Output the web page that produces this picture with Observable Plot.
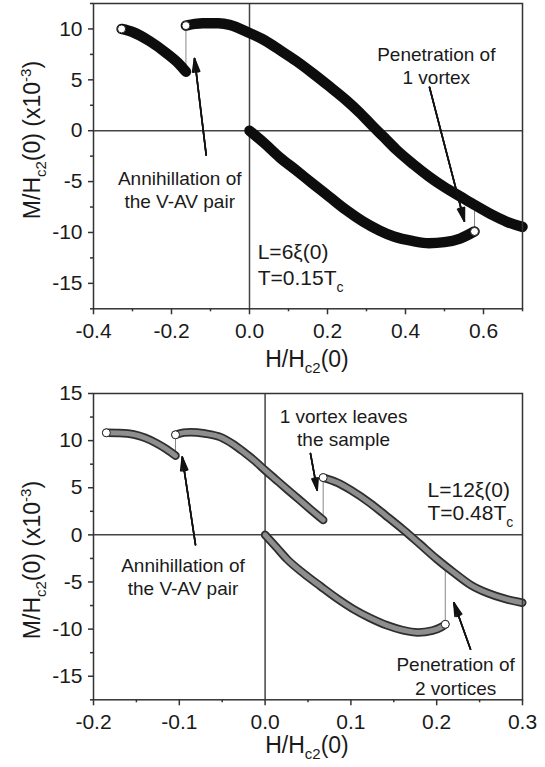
<!DOCTYPE html>
<html><head><meta charset="utf-8">
<script src="https://cdn.jsdelivr.net/npm/d3@7"></script>
<script src="https://cdn.jsdelivr.net/npm/@observablehq/plot@0.6"></script>
<style>body{margin:0;background:#fff;} #chart{width:545px;} svg{display:block;}</style>
</head><body><div id="chart"></div>
<script>
// ---------- Top panel data (L=6ξ(0), T=0.15Tc) ----------
const topA_H = [-0.328, -0.30, -0.256, -0.214, -0.179, -0.163];
const topA_M = [10.0, 9.7, 8.8, 7.65, 6.5, 5.8];
const topB_H = [-0.163, -0.14, -0.12, -0.08, -0.051, 0, 0.04, 0.077, 0.12, 0.162, 0.205, 0.248, 0.282, 0.316, 0.345, 0.376, 0.42, 0.46, 0.5, 0.54, 0.58, 0.624, 0.66, 0.7];
const topB_M = [10.33, 10.5, 10.57, 10.55, 10.4, 9.6, 8.85, 7.94, 6.85, 5.65, 4.35, 3.0, 1.8, 0.45, -0.65, -1.85, -3.3, -4.5, -5.55, -6.45, -7.35, -8.3, -8.95, -9.45];
const topC_H = [0, 0.04, 0.077, 0.12, 0.162, 0.205, 0.248, 0.29, 0.333, 0.37, 0.42, 0.46, 0.5, 0.54, 0.577];
const topC_M = [0, -1.3, -2.6, -3.9, -5.2, -6.5, -7.8, -8.9, -9.8, -10.4, -10.85, -11.05, -10.95, -10.6, -9.9];
const topOpen_H = [-0.328, -0.163, 0.577];
const topOpen_M = [10.0, 10.33, -9.9];
const topJump_H = [-0.163, 0.577];
const topJump_from = [5.8, -9.9];
const topJump_to = [10.33, -7.3];
const topLabels = ["Annihillation of\nthe V-AV pair", "Penetration of\n1 vortex"];
const topLabel_H = [-0.179, 0.479];
const topLabel_M = [-5.74, 6.47];
const topArrow_H1 = [-0.111, 0.4615], topArrow_M1 = [-2.4, 4.27];
const topArrow_H2 = [-0.141, 0.551], topArrow_M2 = [7.1, -8.9];
const topParams = ["L=6ξ(0)", "T=0.15T"];
const topParam_H = [0.021, 0.021];
const topParam_M = [-11.94, -14.5];
const topXTicks = [-0.4, -0.2, 0.0, 0.2, 0.4, 0.6];
const topXMinor = [-0.3, -0.1, 0.1, 0.3, 0.5, 0.7];
const topYTicks = [-15, -10, -5, 0, 5, 10];
const topYMinor = [-17.5, -12.5, -7.5, -2.5, 2.5, 7.5, 12.5];

// ---------- Bottom panel data (L=12ξ(0), T=0.48Tc) ----------
const botA_H = [-0.185, -0.17, -0.153, -0.14, -0.126, -0.115, -0.1044];
const botA_M = [10.83, 10.8, 10.65, 10.3, 9.7, 9.1, 8.4];
const botB_H = [-0.1044, -0.095, -0.087, -0.07, -0.052, -0.037, -0.025, -0.012, 0, 0.013, 0.0258, 0.04, 0.053, 0.0677];
const botB_M = [10.62, 10.85, 10.9, 10.75, 10.37, 9.6, 8.8, 7.85, 6.86, 5.83, 4.82, 3.72, 2.7, 1.58];
const botC_H = [0.0677, 0.084, 0.1, 0.1228, 0.14, 0.1617, 0.18, 0.2006, 0.22, 0.2394, 0.26, 0.28, 0.2997];
const botC_M = [6.08, 5.55, 4.75, 3.34, 2.1, 0.5, -0.95, -2.6, -4.0, -5.3, -6.2, -6.8, -7.2];
const botD_H = [0, 0.013, 0.0258, 0.045, 0.0646, 0.084, 0.1034, 0.122, 0.142, 0.16, 0.178, 0.195, 0.205, 0.21];
const botD_M = [0, -1.3, -2.6, -4.1, -5.45, -6.75, -7.9, -8.8, -9.6, -10.1, -10.35, -10.15, -9.8, -9.49];
const botOpen_H = [-0.185, -0.1044, 0.0677, 0.21];
const botOpen_M = [10.83, 10.62, 6.08, -9.49];
const botJump_H = [-0.1044, 0.0677, 0.21];
const botJump_from = [8.4, 1.58, -9.49];
const botJump_to = [10.62, 6.08, -3.6];
const botLabels = ["1 vortex leaves\nthe sample", "Annihillation of\nthe V-AV pair", "Penetration of\n2 vortices"];
const botLabel_H = [0.0914, -0.0957, 0.222];
const botLabel_M = [11.45, -4.4, -14.93];
const botArrow_H1 = [0.0529, -0.0811, 0.2394], botArrow_M1 = [8.62, -1.05, -12.13];
const botArrow_H2 = [0.0607, -0.0966, 0.22], botArrow_M2 = [4.75, 8.26, -7.2];
const botParams = ["L=12ξ(0)", "T=0.48T"];
const botParam_H = [0.1893, 0.1893];
const botParam_M = [4.7, 2.3];
const botXTicks = [-0.2, -0.1, 0.0, 0.1, 0.2, 0.3];
const botXMinor = [-0.15, -0.05, 0.05, 0.15, 0.25];
const botYTicks = [-15, -10, -5, 0, 5, 10, 15];
const botYMinor = [-17.5, -12.5, -7.5, -2.5, 2.5, 7.5, 12.5];

// ---------- helpers ----------
const pts = (H, M) => H.map((h, i) => ({H: h, M: M[i]}));
const FONT = "Liberation Sans, Arial, Helvetica, sans-serif";
const INK = "#1a1a1a";

function buildPanel(cfg) {
  const branchMarks = [];
  for (const b of cfg.branches) {
    if (cfg.gray) {
      branchMarks.push(Plot.line(b, {x: "H", y: "M", stroke: "#2e2e2e", strokeWidth: 8.5, curve: "monotone-x", strokeLinecap: "round"}));
      branchMarks.push(Plot.line(b, {x: "H", y: "M", stroke: "#8e8e8e", strokeWidth: 5, curve: "monotone-x", strokeLinecap: "round"}));
    } else {
      branchMarks.push(Plot.line(b, {x: "H", y: "M", stroke: "#0d0d0d", strokeWidth: 10.5, curve: "monotone-x", strokeLinecap: "round"}));
    }
  }
  const jumps = cfg.jumpH.map((h, i) => ({H: h, m1: cfg.jumpFrom[i], m2: cfg.jumpTo[i]}));
  const arrows = cfg.arH1.map((h, i) => ({x1: h, y1: cfg.arM1[i], x2: cfg.arH2[i], y2: cfg.arM2[i]}));
  const labels = cfg.labels.map((t, i) => ({t, H: cfg.labH[i], M: cfg.labM[i]}));
  const params = cfg.params.map((t, i) => ({t, H: cfg.parH[i], M: cfg.parM[i]}));
  const arrowMarks = [30, 20, 10].map(a =>
    Plot.arrow(arrows, {x1: "x1", y1: "y1", x2: "x2", y2: "y2", stroke: "#111", strokeWidth: 1.6, headLength: 13, headAngle: a}));
  const plot = Plot.plot({
    width: 545,
    height: cfg.height,
    marginLeft: 93, marginRight: 23,
    marginTop: cfg.mt, marginBottom: cfg.mb,
    style: {fontFamily: FONT, fontSize: "21px", color: INK, background: "white"},
    x: {domain: cfg.xd, label: null},
    y: {domain: cfg.yd, label: null},
    marks: [
      Plot.ruleY([0], {stroke: "#444", strokeWidth: 1.5}),
      Plot.ruleX([0], {stroke: "#444", strokeWidth: 1.5}),
      Plot.link(jumps, {x1: "H", x2: "H", y1: "m1", y2: "m2", stroke: "#888", strokeWidth: 1}),
      ...branchMarks,
      Plot.dot(pts(cfg.openH, cfg.openM), {x: "H", y: "M", r: 4, fill: "white", stroke: "#222", strokeWidth: 1}),
      ...arrowMarks,
      Plot.text(labels, {x: "H", y: "M", text: "t", fontSize: 19, textAnchor: "middle", lineAnchor: "middle", lineHeight: 1.22, fill: INK}),
      Plot.text(params, {x: "H", y: "M", text: "t", fontSize: 21, textAnchor: "start", lineAnchor: "middle", fill: INK}),
      Plot.axisX(cfg.xMinor, {tickSize: 3, strokeWidth: 1.5, stroke: "#333", tickFormat: () => "", label: null}),
      Plot.axisX(cfg.xTicks, {tickSize: 6, tickPadding: 8, strokeWidth: 1.5, stroke: "#333", tickFormat: d => d.toFixed(1), fontSize: 21, label: null}),
      Plot.axisY(cfg.yMinor, {tickSize: 3, strokeWidth: 1.5, stroke: "#333", tickFormat: () => "", label: null}),
      Plot.axisY(cfg.yTicks, {tickSize: 5, tickPadding: 6, strokeWidth: 1.5, stroke: "#333", tickFormat: d => String(d), fontSize: 21, label: null}),
      Plot.frame({stroke: "#333", strokeWidth: 1.5})
    ]
  });
  const s = d3.select(plot);
  s.selectAll("text").filter(function() { return this.textContent === cfg.params[1]; })
    .append("tspan").attr("font-size", 14).attr("dy", 7).text("c");
  const xt = s.append("text").attr("x", 307).attr("y", cfg.xTitleY).attr("text-anchor", "middle")
    .attr("font-family", FONT).attr("font-size", 23).attr("fill", INK);
  xt.append("tspan").text("H/H");
  xt.append("tspan").attr("font-size", 15).attr("dy", 6).text("c2");
  xt.append("tspan").attr("dy", -6).text("(0)");
  const yt = s.append("text").attr("transform", `translate(40,${cfg.yTitleC}) rotate(-90)`).attr("text-anchor", "middle")
    .attr("font-family", FONT).attr("font-size", 23).attr("fill", INK);
  yt.append("tspan").text("M/H");
  yt.append("tspan").attr("font-size", 15).attr("dy", 6).text("c2");
  yt.append("tspan").attr("dy", -6).text("(0) (x10");
  yt.append("tspan").attr("font-size", 15).attr("dy", -9).text("-3");
  yt.append("tspan").attr("dy", 9).text(")");
  return plot;
}

const topPlot = buildPanel({
  height: 380, mt: 3, mb: 71.7, xd: [-0.4, 0.7], yd: [-17.5, 12.5], gray: false,
  branches: [pts(topA_H, topA_M), pts(topB_H, topB_M), pts(topC_H, topC_M)],
  openH: topOpen_H, openM: topOpen_M,
  jumpH: topJump_H, jumpFrom: topJump_from, jumpTo: topJump_to,
  arH1: topArrow_H1, arM1: topArrow_M1, arH2: topArrow_H2, arM2: topArrow_M2,
  labels: topLabels, labH: topLabel_H, labM: topLabel_M,
  params: topParams, parH: topParam_H, parM: topParam_M,
  xTicks: topXTicks, xMinor: topXMinor, yTicks: topYTicks, yMinor: topYMinor,
  xTitleY: 367, yTitleC: 140
});
const botPlot = buildPanel({
  height: 387, mt: 13, mb: 67.7, xd: [-0.2, 0.3], yd: [-17.5, 15], gray: true,
  branches: [pts(botA_H, botA_M), pts(botB_H, botB_M), pts(botC_H, botC_M), pts(botD_H, botD_M)],
  openH: botOpen_H, openM: botOpen_M,
  jumpH: botJump_H, jumpFrom: botJump_from, jumpTo: botJump_to,
  arH1: botArrow_H1, arM1: botArrow_M1, arH2: botArrow_H2, arM2: botArrow_M2,
  labels: botLabels, labH: botLabel_H, labM: botLabel_M,
  params: botParams, parH: botParam_H, parM: botParam_M,
  xTicks: botXTicks, xMinor: botXMinor, yTicks: botYTicks, yMinor: botYMinor,
  xTitleY: 373, yTitleC: 180
});
document.getElementById("chart").append(topPlot, botPlot);
</script></body></html>
